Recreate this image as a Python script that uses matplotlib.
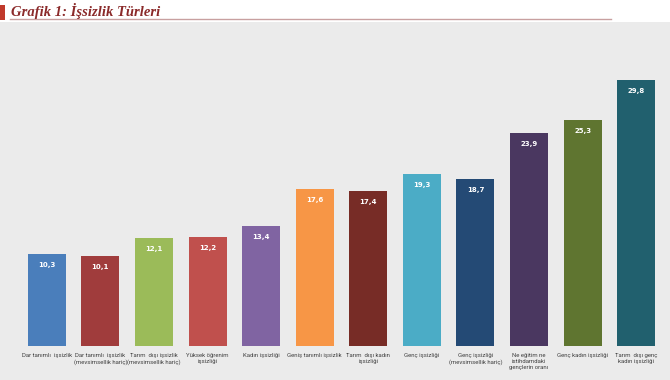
import matplotlib.pyplot as plt
from matplotlib.patches import Rectangle
from matplotlib.lines import Line2D

categories = [
    "Dar tanımlı  işsizlik",
    "Dar tanımlı  işsizlik\n(mevsimsellik hariç)",
    "Tarım  dışı işsizlik\n(mevsimsellik hariç)",
    "Yüksek öğrenim\nişsizliği",
    "Kadın işsizliği",
    "Geniş tanımlı işsizlik",
    "Tarım  dışı kadın\nişsizliği",
    "Genç işsizliği",
    "Genç işsizliği\n(mevsimsellik hariç)",
    "Ne eğitim ne\nistihdamdaki\ngençlerin oranı",
    "Genç kadın işsizliği",
    "Tarım  dışı genç\nkadın işsizliği",
]
values = [10.3, 10.1, 12.1, 12.2, 13.4, 17.6, 17.4, 19.3, 18.7, 23.9, 25.3, 29.8]
value_labels = ["10,3", "10,1", "12,1", "12,2", "13,4", "17,6", "17,4", "19,3",
                "18,7", "23,9", "25,3", "29,8"]
colors = ["#4a7ebb", "#a03c3c", "#9bbb59", "#c0504d", "#8064a2", "#f79646",
          "#772c26", "#4bacc6", "#244a75", "#4a3760", "#5f7530", "#21606e"]

W, H = 670, 380
fig = plt.figure(figsize=(W / 100, H / 100), dpi=100)
fig.patch.set_facecolor("white")

# gray panel behind the chart
fig.add_artist(Rectangle((0, 0), 1, (H - 22) / H, transform=fig.transFigure,
                         facecolor="#ebebeb", edgecolor="none", zorder=0))

# title block
fig.add_artist(Rectangle((0, (H - 20) / H), 5 / W, 15 / H, transform=fig.transFigure,
                         facecolor="#c0392b", edgecolor="none"))
fig.add_artist(Line2D([10 / W, 611 / W], [(H - 19) / H] * 2, transform=fig.transFigure,
                      color="#c8a0a0", lw=1))
fig.text(11 / W, (H - 11) / H, "Grafik 1: İşsizlik Türleri", ha="left", va="center",
         fontsize=10.5, fontweight="bold", style="italic", family="Liberation Serif",
         color="#8b2a2a")

# axes: baseline at y=346px from top, ~8.93 px per unit
bottom_px = 34
top_px = 40
ax = fig.add_axes([20 / W, bottom_px / H, 643 / W, (H - bottom_px - top_px) / H])
ax.set_facecolor("none")
ax.set_xlim(-0.5, len(values) - 0.5)
ax.set_ylim(0, (H - bottom_px - top_px) / 8.93)
x = range(len(values))
ax.bar(x, values, width=0.71, color=colors, zorder=3)

for xi, v, lab in zip(x, values, value_labels):
    ax.text(xi, v - 0.9, lab, ha="center", va="top", fontsize=5,
            fontweight="bold", color="white", zorder=4)

ax.set_xticks(list(x))
ax.set_xticklabels(categories, fontsize=4.3, color="#404040", linespacing=1.3,
                   family=["Liberation Sans Narrow", "Roboto"])
ax.tick_params(axis="x", length=0, pad=5)
ax.set_yticks([])
for s in ax.spines.values():
    s.set_visible(False)

fig.savefig("out.png", dpi=100)
